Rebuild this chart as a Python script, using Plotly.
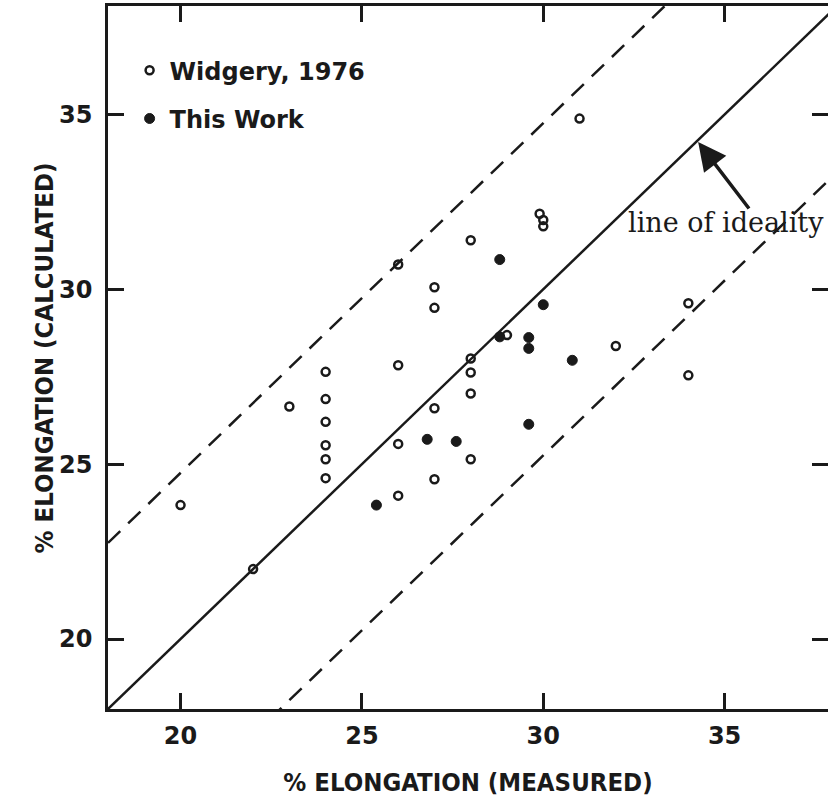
import plotly.graph_objects as go

# ---- data ----
widgery_measured = [20, 22, 23, 24, 24, 24, 24, 24, 24, 26, 26, 26, 26, 27, 27, 27, 27,
                    28, 28, 28, 28, 28, 29.0, 29.9, 30.0, 30.0, 31, 32, 34, 34]
widgery_calculated = [23.83, 22.0, 26.65, 27.64, 26.86, 26.21, 25.54, 25.14, 24.6, 30.71, 27.83, 25.58, 24.1,
                      30.06, 29.47, 26.6, 24.57, 31.4, 28.02, 27.62, 27.02, 25.14, 28.69, 32.16, 31.98, 31.8,
                      34.88, 28.38, 29.6, 27.54]

this_measured = [25.4, 26.8, 27.6, 28.8, 28.8, 29.6, 29.6, 29.6, 30.0, 30.8]
this_calculated = [23.83, 25.71, 25.65, 30.85, 28.64, 28.62, 28.31, 26.14, 29.56, 27.97]

line_x = [18, 38.5]
band_offset = 4.75
x_range = [18, 37.85]
y_range = [18, 38.1]
tick_vals = [20, 25, 30, 35]

ideal_y = [v for v in line_x]
upper_y = [v + band_offset for v in line_x]
lower_y = [v - band_offset for v in line_x]

sans_bold = "DejaVu Sans"
cond = "DejaVu Sans Condensed, DejaVu Sans"
ink = "#1a1a1a"

fig = go.Figure()
fig.add_trace(go.Scatter(x=line_x, y=ideal_y, mode="lines", line=dict(color=ink, width=2.5),
                         showlegend=False, hoverinfo="skip"))
fig.add_trace(go.Scatter(x=line_x, y=upper_y, mode="lines",
                         line=dict(color=ink, width=2.5, dash="17px,11px"),
                         showlegend=False, hoverinfo="skip"))
fig.add_trace(go.Scatter(x=line_x, y=lower_y, mode="lines",
                         line=dict(color=ink, width=2.5, dash="17px,11px"),
                         showlegend=False, hoverinfo="skip"))

fig.add_trace(go.Scatter(x=widgery_measured, y=widgery_calculated, mode="markers",
                         name="Widgery, 1976", legendgroup="a",
                         marker=dict(symbol="circle-open", size=8, color=ink,
                                     line=dict(width=2.5, color=ink))))
fig.add_trace(go.Scatter(x=this_measured, y=this_calculated, mode="markers",
                         name="This Work", legendgroup="b",
                         marker=dict(symbol="circle", size=10, color=ink,
                                     line=dict(width=1, color=ink))))

axis_common = dict(
    showgrid=False, zeroline=False, showline=True, linecolor=ink, linewidth=2.5,
    mirror="ticks", ticks="inside", ticklen=16, tickwidth=2.5, tickcolor=ink,
    tickvals=tick_vals, tickfont=dict(family=sans_bold, size=24, color=ink, weight="bold"),
)

fig.update_xaxes(range=x_range, ticklabelstandoff=3,
                 title=dict(text="% ELONGATION (MEASURED)", standoff=25,
                            font=dict(family=cond, size=25.5, color=ink, weight="bold")),
                 **axis_common)
fig.update_yaxes(range=y_range, ticklabelstandoff=8, **axis_common)

fig.add_annotation(x=-0.089, y=0.5, xref="paper", yref="paper", text="% ELONGATION (CALCULATED)",
                   textangle=-90, showarrow=False, xanchor="center", yanchor="middle",
                   font=dict(family=cond, size=25.5, color=ink, weight="bold"))

fig.add_annotation(x=34.27, y=34.21, xref="x", yref="y", ax=52, ay=68, axref="pixel", ayref="pixel",
                   text="", showarrow=True, arrowhead=2, arrowsize=1.6, arrowwidth=3.5,
                   arrowcolor=ink)
fig.add_annotation(x=35.05, y=31.9, xref="x", yref="y", text="line of ideality", showarrow=False,
                   xanchor="center", yanchor="middle",
                   font=dict(family="DejaVu Serif", size=27, color=ink))

fig.update_layout(
    width=828, height=800,
    margin=dict(l=108, r=0, t=6, b=91, autoexpand=False),
    paper_bgcolor="white", plot_bgcolor="white",
    legend=dict(x=0.03, y=0.94, xanchor="left", yanchor="top", bgcolor="rgba(0,0,0,0)",
                traceorder="grouped", tracegroupgap=14,
                font=dict(family=sans_bold, size=24, color=ink, weight="bold")),
)

fig.write_html("out.html")
